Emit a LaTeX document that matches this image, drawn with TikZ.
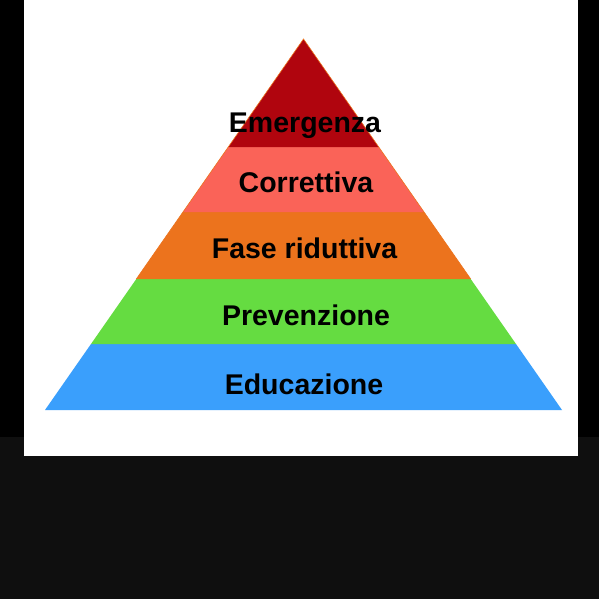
\documentclass[tikz,border=0pt]{standalone}
\usepackage{fontspec}
\setmainfont{Liberation Sans}
\definecolor{cRed}{HTML}{B0050E}
\definecolor{cSalmon}{HTML}{FA6358}
\definecolor{cOrange}{HTML}{EC731D}
\definecolor{cGreen}{HTML}{65DC41}
\definecolor{cBlue}{HTML}{3A9FFC}
\definecolor{cDark}{HTML}{0F0F0F}
\begin{document}
\begin{tikzpicture}[x=1pt,y=-1pt,
  lbl/.style={anchor=base,font=\fontsize{28.5}{30}\selectfont\bfseries,text=black,inner sep=0pt}]
\useasboundingbox (0,0) rectangle (599,599);
% backgrounds
\fill[black] (0,0) rectangle (599,437);
\fill[cDark] (0,437) rectangle (599,599);
\fill[white] (24,0) rectangle (578,456);
% bands
\fill[cBlue]   (91.0,344) -- (516.0,344) -- (562,410) -- (45,410) -- cycle;
\fill[cGreen]  (136.3,279) -- (470.7,279) -- (516.0,344) -- (91.0,344) -- cycle;
\fill[cOrange] (182.96,212) -- (424.04,212) -- (470.7,279) -- (136.3,279) -- cycle;
\fill[cSalmon] (228.25,147) -- (378.75,147) -- (424.04,212) -- (182.96,212) -- cycle;
\fill[cRed]    (303.5,39) -- (378.75,147) -- (228.25,147) -- cycle;
\draw[cOrange,line width=0.6pt] (136.3,279) -- (303.5,39) -- (470.7,279);
% labels
\node[lbl] (em) at (305,132) {Emergenza};
\node[lbl] (co) at (306,192) {Correttiva};
\node[lbl] (fa) at (304.5,258) {Fase riduttiva};
\node[lbl] (pr) at (306,325) {Prevenzione};
\node[lbl] (ed) at (304,394) {Educazione};
\end{tikzpicture}
\end{document}
